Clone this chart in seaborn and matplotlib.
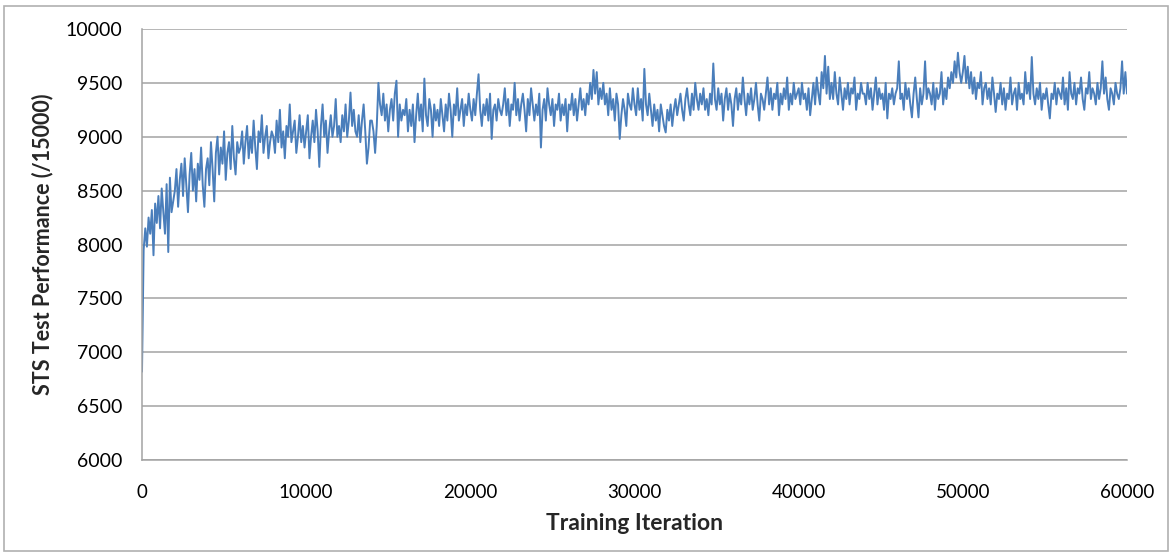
import numpy as np
import pandas as pd
import matplotlib
matplotlib.use("Agg")
import matplotlib.pyplot as plt
import seaborn as sns
from matplotlib.patches import Rectangle

# STS test score, one value every 100 iterations (0..60000)
score = [
    6820, 7950, 8150, 7980, 8250, 8100, 8320, 7900, 8380, 8200, 8450, 8150, 8520, 8300, 8100, 8560, 7930, 8620, 8300, 8400,
    8500, 8700, 8350, 8600, 8750, 8450, 8800, 8550, 8300, 8650, 8850, 8500, 8700, 8400, 8750, 8600, 8900, 8550, 8350, 8700,
    8800, 8550, 8950, 8700, 8400, 8850, 9000, 8650, 8900, 8750, 9050, 8600, 8850, 8950, 8700, 9100, 8800, 8650, 8950, 8850,
    8900, 9050, 8750, 8950, 9100, 8800, 9000, 8850, 9150, 8900, 8700, 9050, 8950, 9200, 8850, 9000, 9100, 8800, 8950, 9050,
    9000, 8850, 9150, 8950, 9250, 8900, 9050, 8800, 9100, 9000, 9300, 8950, 9050, 9150, 8850, 9000, 9200, 8950, 9100, 8900,
    9050, 9200, 8800, 9000, 9150, 8950, 9250, 9050, 8720, 9100, 9300, 9000, 9150, 8850, 9050, 9200, 9000, 9100, 9350, 9000,
    9100, 8950, 9200, 9050, 9300, 9000, 9150, 9410, 9100, 9250, 9050, 9000, 9200, 8950, 9150, 9300, 9050, 8750, 8900, 9150,
    9150, 9050, 8850, 9100, 9500, 9300, 9200, 9400, 9150, 9300, 9050, 9250, 9350, 9150, 9400, 9520, 9000, 9300, 9150, 9250,
    9200, 9350, 9050, 9250, 9100, 9300, 8950, 9200, 9400, 9150, 9300, 9050, 9540, 9200, 9100, 9350, 9250, 9000, 9300, 9150,
    9250, 9100, 9350, 9200, 9050, 9300, 9150, 9400, 9250, 9000, 9300, 9200, 9450, 9150, 9250, 9350, 9100, 9300, 9200, 9400,
    9250, 9150, 9350, 9200, 9400, 9580, 9250, 9100, 9300, 9200, 9350, 9150, 9400, 8980, 9250, 9300, 9150, 9350, 9250, 9200,
    9300, 9450, 9200, 9350, 9100, 9300, 9250, 9500, 9200, 9350, 9150, 9300, 9400, 9250, 9050, 9350, 9200, 9450, 9300, 9150,
    9300, 9200, 9400, 8900, 9250, 9350, 9150, 9450, 9300, 9200, 9350, 9100, 9300, 9250, 9400, 9150, 9300, 9200, 9350, 9050,
    9300, 9250, 9400, 9200, 9350, 9150, 9300, 9450, 9250, 9350, 9200, 9400, 9300, 9500, 9350, 9620, 9400, 9600, 9300, 9450,
    9350, 9500, 9300, 9400, 9200, 9450, 9250, 9350, 9150, 9400, 9300, 8980, 9200, 9350, 9250, 9100, 9400, 9300, 9250, 9450,
    9300, 9200, 9450, 9250, 9350, 9150, 9630, 9300, 9200, 9400, 9250, 9100, 9300, 9150, 9250, 9050, 9300, 9200, 9100, 9040,
    9250, 9150, 9300, 9100, 9250, 9350, 9200, 9300, 9400, 9250, 9150, 9350, 9450, 9300, 9200, 9400, 9250, 9500, 9350, 9250,
    9400, 9300, 9450, 9250, 9350, 9200, 9400, 9300, 9680, 9350, 9250, 9450, 9300, 9400, 9150, 9350, 9450, 9250, 9400, 9300,
    9100, 9350, 9450, 9250, 9400, 9300, 9550, 9350, 9200, 9400, 9300, 9450, 9250, 9350, 9500, 9300, 9150, 9400, 9350, 9250,
    9400, 9550, 9300, 9450, 9250, 9400, 9350, 9500, 9200, 9400, 9300, 9450, 9350, 9550, 9250, 9400, 9300, 9500, 9350, 9400,
    9450, 9300, 9500, 9350, 9400, 9250, 9450, 9200, 9350, 9500, 9300, 9550, 9400, 9300, 9600, 9450, 9750, 9400, 9650, 9350,
    9500, 9350, 9600, 9400, 9300, 9550, 9400, 9250, 9450, 9350, 9500, 9300, 9450, 9400, 9550, 9250, 9400, 9350, 9500, 9400,
    9400, 9300, 9500, 9350, 9450, 9250, 9400, 9550, 9300, 9450, 9350, 9400, 9250, 9500, 9170, 9400, 9350, 9450, 9300, 9400,
    9450, 9700, 9350, 9400, 9250, 9500, 9350, 9450, 9300, 9180, 9400, 9550, 9350, 9180, 9450, 9300, 9400, 9700, 9350, 9450,
    9400, 9300, 9500, 9250, 9450, 9350, 9400, 9600, 9300, 9450, 9350, 9550, 9450, 9600, 9500, 9700, 9550, 9780, 9600, 9500,
    9600, 9750, 9500, 9650, 9450, 9600, 9400, 9550, 9350, 9500, 9450, 9600, 9300, 9450, 9500, 9350, 9450, 9300, 9550, 9400,
    9230, 9400, 9350, 9500, 9300, 9450, 9250, 9400, 9350, 9550, 9300, 9400, 9450, 9250, 9500, 9350, 9400, 9300, 9600, 9400,
    9500, 9350, 9740, 9400, 9300, 9450, 9350, 9500, 9250, 9400, 9350, 9450, 9300, 9170, 9400, 9350, 9500, 9300, 9450, 9400,
    9350, 9550, 9300, 9450, 9250, 9600, 9400, 9350, 9500, 9300, 9450, 9400, 9550, 9350, 9250, 9450, 9400, 9600, 9350, 9450,
    9400, 9300, 9500, 9350, 9450, 9700, 9400, 9550, 9350, 9250, 9450, 9400, 9300, 9500, 9400, 9350, 9450, 9700, 9400, 9600,
    9400,
]
iteration = list(range(0, 60001, 100))

xticks = [0, 10000, 20000, 30000, 40000, 50000, 60000]
yticks = [6000, 6500, 7000, 7500, 8000, 8500, 9000, 9500, 10000]

df = pd.DataFrame({"iter": iteration, "score": score})

sns.set_style("white")
plt.rcParams["font.family"] = ["Lato", "DejaVu Sans"]

fig = plt.figure(figsize=(11.72, 5.55), dpi=100)
ax = fig.add_axes([142/1172, 1-460/555, 985/1172, 431/555])

grey = "#a3a3a3"
ax.set_axisbelow(True)
ax.yaxis.grid(True, color=grey, lw=1.1)
sns.lineplot(data=df, x="iter", y="score", color="#4a7ebb", lw=1.4, ax=ax)

ax.set_xlim(0, 60000)
ax.set_ylim(6000, 10000)
ax.set_xticks(xticks)
ax.set_yticks(yticks)
ax.set_xticklabels([str(t) for t in xticks])
ax.set_yticklabels([str(t) for t in yticks])
ax.tick_params(axis="both", direction="out", length=5, width=1.1, color=grey,
               labelcolor="black")
ax.tick_params(axis="y", pad=9, labelsize=14)
ax.tick_params(axis="x", pad=12, labelsize=13.5)

for s in ["top", "right"]:
    ax.spines[s].set_visible(False)
for s in ["left", "bottom"]:
    ax.spines[s].set_color(grey)
    ax.spines[s].set_linewidth(1.1)

ax.set_xlabel("Training Iteration", fontsize=16.5, fontweight="bold", labelpad=9)
ax.set_ylabel("STS Test Performance (/15000)", fontsize=15.5, fontweight="bold", labelpad=9)

# outer chart frame
fig.patches.append(Rectangle((4/1172, 4/555), 1164/1172, 545/555, transform=fig.transFigure,
                             fill=False, edgecolor="#b0b0b0", lw=1.2))

fig.savefig("out.png", dpi=100)
